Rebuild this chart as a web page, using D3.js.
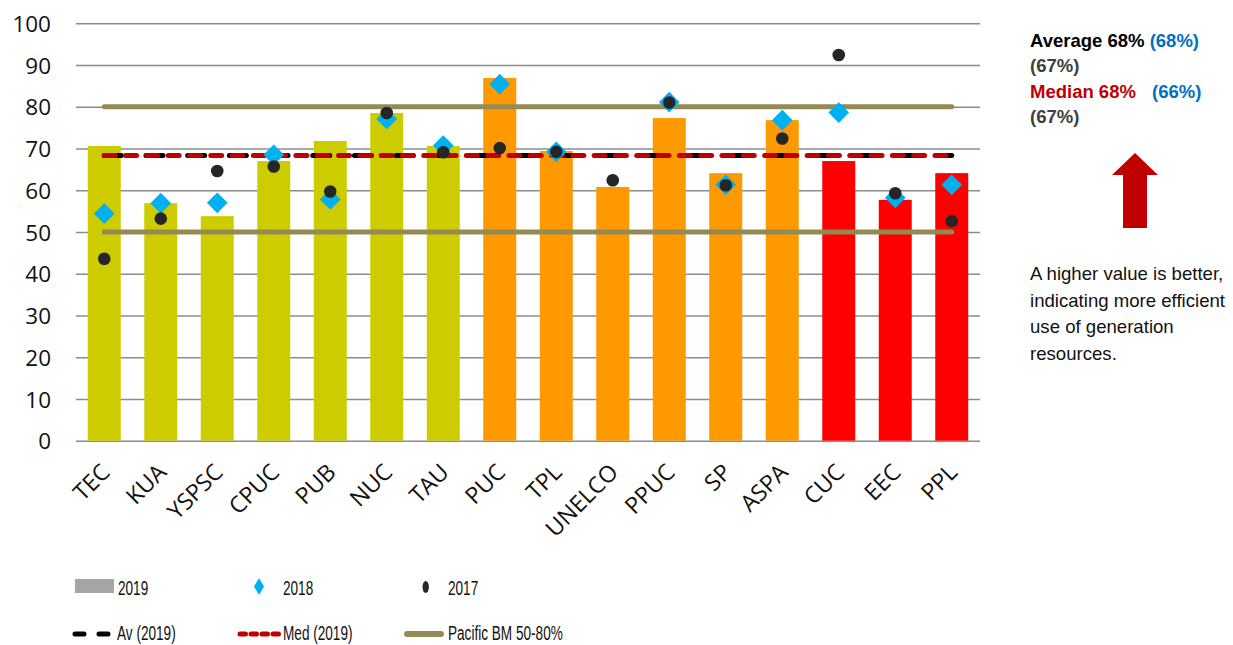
<!DOCTYPE html>
<html>
<head>
<meta charset="utf-8">
<script src="https://cdn.jsdelivr.net/npm/d3@7"></script>
<style>
  html, body { margin: 0; padding: 0; background: #fff; }
  svg { display: block; }
</style>
</head>
<body>
<svg id="chart" width="1233" height="645"></svg>
<script>
// ---- data ----
const categories = ["TEC","KUA","YSPSC","CPUC","PUB","NUC","TAU","PUC","TPL","UNELCO","PPUC","SP","ASPA","CUC","EEC","PPL"];
const groups     = ["g1","g1","g1","g1","g1","g1","g1","g2","g2","g2","g2","g2","g2","g3","g3","g3"];
const values2019 = [70.6, 56.9, 53.8, 67.0, 71.8, 78.5, 70.6, 86.9, 69.4, 60.8, 77.3, 64.1, 76.8, 67.0, 57.7, 64.1];
const values2018 = [54.4, 56.9, 57.0, 68.5, 57.8, 77.1, 70.7, 85.4, 69.2, null, 81.1, 61.3, 76.8, 78.6, 58.2, 61.3];
const values2017 = [43.6, 53.2, 64.6, 65.7, 59.7, 78.5, 69.1, 70.1, 69.2, 62.4, 81.0, 61.2, 72.4, 92.4, 59.3, 52.6];
const average2019 = 68.3;
const median2019 = 68.3;
const pacificBM = [50, 80];
const yTicks = [0,10,20,30,40,50,60,70,80,90,100];
const legendRow1 = ["2019","2018","2017"];
const legendRow2 = ["Av (2019)","Med (2019)","Pacific BM 50-80%"];

// ---- styles ----
const groupColor = { g1: "#CCCC00", g2: "#FF9900", g3: "#FF0000" };
const axisFont = "'Open Sans', 'Noto Sans', sans-serif";
const svg = d3.select("#chart");

const x = d3.scaleBand().domain(categories).range([76, 980]).paddingInner(0.416).paddingOuter(0.208);
const y = d3.scaleLinear().domain([0, 100]).range([440.7, 23.3]);

// gridlines + y axis labels
const yAxis = d3.axisLeft(y).tickValues(yTicks).tickSize(-(980 - 76)).tickPadding(25).tickFormat(d3.format("d"));
const gAxis = svg.append("g").attr("transform", "translate(76,0)").call(yAxis);
gAxis.select(".domain").remove();
gAxis.selectAll(".tick line").attr("stroke", "#8c8c8c").attr("stroke-width", 1.4);
gAxis.selectAll(".tick text").attr("font-family", axisFont).attr("font-size", 22.5).attr("fill", "#111").attr("dy", "0.36em");

// x axis labels
const xAxis = d3.axisBottom(x).tickSize(0).tickPadding(0);
const gx = svg.append("g").attr("transform", "translate(0,440.7)").call(xAxis);
gx.select(".domain").remove();
gx.selectAll(".tick text")
  .attr("font-family", axisFont).attr("font-size", 23).attr("fill", "#111")
  .attr("text-anchor", "end").attr("y", 0).attr("dy", 0)
  .attr("transform", "translate(7,33) rotate(-45)");

// bars
svg.append("g").selectAll("rect").data(categories).join("rect")
  .attr("x", d => x(d))
  .attr("width", x.bandwidth())
  .attr("y", (d, i) => y(values2019[i]))
  .attr("height", (d, i) => y(0) - y(values2019[i]))
  .attr("fill", (d, i) => groupColor[groups[i]]);

// reference lines
const xStart = x(categories[0]) + x.bandwidth() / 2;
const xEnd = x(categories[categories.length - 1]) + x.bandwidth() / 2;
const lineGen = d3.line();
pacificBM.forEach(v => {
  svg.append("path").attr("d", lineGen([[xStart, y(v)], [xEnd, y(v)]]))
    .attr("stroke", "#948A54").attr("stroke-width", 5).attr("stroke-linecap", "round").attr("fill", "none");
});
svg.append("path").attr("d", lineGen([[xStart, y(average2019)], [xEnd, y(average2019)]]))
  .attr("stroke", "#000").attr("stroke-width", 5).attr("stroke-linecap", "round")
  .attr("stroke-dasharray", "17 24.7").attr("fill", "none");
svg.append("path").attr("d", lineGen([[xStart, y(median2019)], [xEnd, y(median2019)]]))
  .attr("stroke", "#C00000").attr("stroke-width", 5).attr("stroke-linecap", "round")
  .attr("stroke-dasharray", "11 10.3").attr("fill", "none");

// 2018 diamonds
const diamond = d3.symbol().type(d3.symbolSquare).size(215);
svg.append("g").selectAll("path").data(categories.filter((d, i) => values2018[i] != null)).join("path")
  .attr("d", diamond)
  .attr("transform", d => `translate(${x(d) + x.bandwidth() / 2},${y(values2018[categories.indexOf(d)])}) rotate(45)`)
  .attr("fill", "#00B0F0");

// 2017 dots
svg.append("g").selectAll("circle").data(categories).join("circle")
  .attr("cx", d => x(d) + x.bandwidth() / 2)
  .attr("cy", (d, i) => y(values2017[i]))
  .attr("r", 6.3)
  .attr("fill", "#262626");

// legend
const lg = svg.append("g");
const legFont = "'Liberation Sans', Arial, sans-serif";
function legText(txt, tx, ty) {
  lg.append("text").attr("transform", `translate(${tx},${ty}) scale(0.85,1.31)`)
    .attr("font-family", legFont).attr("font-size", 16).attr("fill", "#111").text(txt);
}
lg.append("rect").attr("x", 75).attr("y", 579).attr("width", 39).attr("height", 14).attr("fill", "#A6A6A6");
legText(legendRow1[0], 118, 595);
lg.append("path").attr("d", "M259,578 L264,586.5 L259,595 L254,586.5 Z").attr("fill", "#00B0F0");
legText(legendRow1[1], 283, 595);
lg.append("ellipse").attr("cx", 425.7).attr("cy", 587).attr("rx", 3.2).attr("ry", 6).attr("fill", "#262626");
legText(legendRow1[2], 448, 595);

lg.append("path").attr("d", "M75,634 L84,634 M99,634 L108,634").attr("stroke", "#000").attr("stroke-width", 5).attr("stroke-linecap", "round");
legText(legendRow2[0], 117, 640);
lg.append("path").attr("d", "M240,634 L279,634").attr("stroke", "#C00000").attr("stroke-width", 5).attr("stroke-linecap", "round").attr("stroke-dasharray", "5.5 5.5");
legText(legendRow2[1], 283, 640);
lg.append("path").attr("d", "M407,634 L441,634").attr("stroke", "#948A54").attr("stroke-width", 6).attr("stroke-linecap", "round");
legText(legendRow2[2], 448, 640);

// side annotation
const ann = svg.append("g").attr("font-family", "'Liberation Sans', Arial, sans-serif");
const t1 = ann.append("text").attr("x", 1030).attr("y", 47).attr("font-size", 18.5).attr("font-weight", "bold");
t1.append("tspan").attr("fill", "#000").text("Average 68% ");
t1.append("tspan").attr("fill", "#0070C0").text("(68%)");
ann.append("text").attr("x", 1030).attr("y", 72).attr("font-size", 18.5).attr("font-weight", "bold").attr("fill", "#404040").text("(67%)");
const t3 = ann.append("text").attr("y", 98).attr("font-size", 18.5).attr("font-weight", "bold");
t3.append("tspan").attr("x", 1030).attr("fill", "#C00000").text("Median 68%");
t3.append("tspan").attr("x", 1152).attr("fill", "#0070C0").text("(66%)");
ann.append("text").attr("x", 1030).attr("y", 123).attr("font-size", 18.5).attr("font-weight", "bold").attr("fill", "#404040").text("(67%)");

ann.append("path").attr("d", "M1135,153 L1158,175 L1147,175 L1147,228 L1123,228 L1123,175 L1112,175 Z").attr("fill", "#C00000");

const body = ["A higher value is better,", "indicating more efficient", "use of generation", "resources."];
ann.append("g").selectAll("text").data(body).join("text")
  .attr("x", 1030).attr("y", (d, i) => 280 + i * 26.7)
  .attr("font-size", 18.6).attr("fill", "#111").text(d => d);
</script>
</body>
</html>
